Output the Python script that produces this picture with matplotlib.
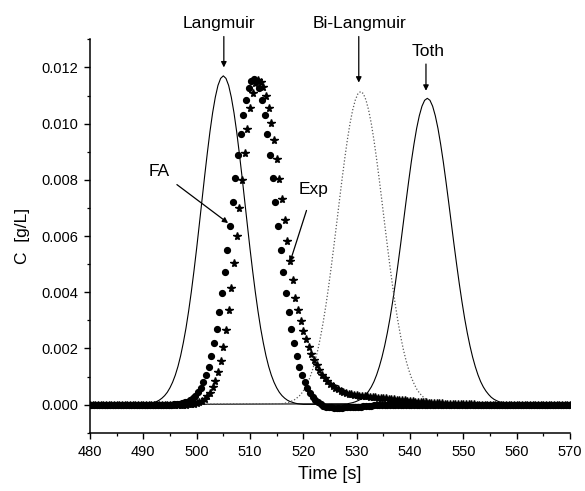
# LIBS

import matplotlib
matplotlib.use('Agg')
import matplotlib.pyplot as plt
import numpy as np

#=================
# DATA
#=================
# calculated peaks (lines), sampled every 0.5 s around the peak, zero at both ends
lang_time = [480.0] + list(np.arange(490.0, 520.5, 0.5)) + [570.0]
lang_c = [0.0,
          0.00001, 0.00002, 0.00003, 0.00005, 0.00008, 0.00011, 0.00016, 0.00023, 0.00032, 0.00044,
          0.00060, 0.00080, 0.00105, 0.00136, 0.00174, 0.00220, 0.00272, 0.00333, 0.00401, 0.00476,
          0.00556, 0.00641, 0.00727, 0.00813, 0.00895, 0.00972, 0.01039, 0.01094, 0.01136, 0.01161,
          0.01170,
          0.01161, 0.01136, 0.01094, 0.01039, 0.00972, 0.00895, 0.00813, 0.00727, 0.00641, 0.00556,
          0.00476, 0.00401, 0.00333, 0.00272, 0.00220, 0.00174, 0.00136, 0.00105, 0.00080, 0.00060,
          0.00044, 0.00032, 0.00023, 0.00016, 0.00011, 0.00008, 0.00005, 0.00003, 0.00002, 0.00001,
          0.0]

bilang_time = [480.0] + list(np.arange(515.75, 546.0, 0.5)) + [570.0]
bilang_c = [0.0,
            0.00003, 0.00004, 0.00006, 0.00008, 0.00012, 0.00016, 0.00023, 0.00031, 0.00042, 0.00056,
            0.00075, 0.00097, 0.00125, 0.00158, 0.00197, 0.00243, 0.00296, 0.00355, 0.00421, 0.00492,
            0.00567, 0.00644, 0.00723, 0.00800, 0.00873, 0.00941, 0.01000, 0.01048, 0.01084, 0.01107,
            0.01114,
            0.01107, 0.01084, 0.01048, 0.01000, 0.00941, 0.00873, 0.00800, 0.00723, 0.00644, 0.00567,
            0.00492, 0.00421, 0.00355, 0.00296, 0.00243, 0.00197, 0.00158, 0.00125, 0.00097, 0.00075,
            0.00056, 0.00042, 0.00031, 0.00023, 0.00016, 0.00012, 0.00008, 0.00006, 0.00004, 0.00003,
            0.0]

toth_time = [480.0] + list(np.arange(528.25, 558.5, 0.5)) + [570.0]
toth_c = [0.0,
          0.00003, 0.00005, 0.00007, 0.00010, 0.00014, 0.00019, 0.00026, 0.00036, 0.00048, 0.00063,
          0.00082, 0.00106, 0.00135, 0.00169, 0.00209, 0.00255, 0.00307, 0.00366, 0.00430, 0.00499,
          0.00571, 0.00646, 0.00721, 0.00794, 0.00864, 0.00927, 0.00983, 0.01028, 0.01062, 0.01083,
          0.01090,
          0.01083, 0.01062, 0.01028, 0.00983, 0.00927, 0.00864, 0.00794, 0.00721, 0.00646, 0.00571,
          0.00499, 0.00430, 0.00366, 0.00307, 0.00255, 0.00209, 0.00169, 0.00135, 0.00106, 0.00082,
          0.00063, 0.00048, 0.00036, 0.00026, 0.00019, 0.00014, 0.00010, 0.00007, 0.00005, 0.00003,
          0.0]

# FA points (every 0.5 s from 480.25)
fa_time = np.arange(480.25, 570.0, 0.5)
fa_c = [0.0, 0.0, 0.0, 0.0, 0.0, 0.0, 0.0, 0.0, 0.0, 0.0,  # 480.25
        0.0, 0.0, 0.0, 0.0, 0.0, 0.0, 0.0, 0.0, 0.0, 0.0,  # 485.25
        0.0, 0.0, 0.0, 0.0, 0.0, 0.0, 0.0, 0.0, 0.0, 0.0,  # 490.25
        0.0, 0.00001, 0.00002, 0.00003, 0.00005, 0.00008, 0.00011, 0.00016, 0.00023, 0.00032,  # 495.25
        0.00044, 0.00059, 0.00079, 0.00104, 0.00135, 0.00173, 0.00218, 0.00270, 0.00330, 0.00398,  # 500.25
        0.00472, 0.00551, 0.00635, 0.00721, 0.00806, 0.00888, 0.00963, 0.01030, 0.01085, 0.01126,  # 505.25
        0.01151, 0.01160, 0.01151, 0.01126, 0.01085, 0.01030, 0.00963, 0.00888, 0.00806, 0.00721,  # 510.25
        0.00635, 0.00551, 0.00472, 0.00398, 0.00330, 0.00270, 0.00218, 0.00173, 0.00135, 0.00104,  # 515.25
        0.00079, 0.00059, 0.00042, 0.00028, 0.00017, 0.00008, 0.00001, -0.00004, -0.00007, -0.00009,  # 520.25
        -0.00010, -0.00011, -0.00011, -0.00011, -0.00011, -0.00010, -0.00010, -0.00009, -0.00009, -0.00008,  # 525.25
        -0.00007, -0.00007, -0.00006, -0.00005, -0.00005, -0.00004, -0.00003, -0.00003, -0.00002, -0.00002,  # 530.25
        -0.00001, -0.00001, 0.0, 0.0, 0.0, 0.0, 0.0, 0.0, 0.0, 0.0,  # 535.25
        0.0, 0.0, 0.0, 0.0, 0.0, 0.0, 0.0, 0.0, 0.0, 0.0,  # 540.25
        0.0, 0.0, 0.0, 0.0, 0.0, 0.0, 0.0, 0.0, 0.0, 0.0,  # 545.25
        0.0, 0.0, 0.0, 0.0, 0.0, 0.0, 0.0, 0.0, 0.0, 0.0,  # 550.25
        0.0, 0.0, 0.0, 0.0, 0.0, 0.0, 0.0, 0.0, 0.0, 0.0,  # 555.25
        0.0, 0.0, 0.0, 0.0, 0.0, 0.0, 0.0, 0.0, 0.0, 0.0,  # 560.25
        0.0, 0.0, 0.0, 0.0, 0.0, 0.0, 0.0, 0.0, 0.0, 0.0]  # 565.25

# experimental points (every 0.5 s from 480.0)
exp_time = np.arange(480.0, 570.5, 0.5)
exp_c = [0.0, 0.0, 0.0, 0.0, 0.0, 0.0, 0.0, 0.0, 0.0, 0.0,  # 480.0
         0.0, 0.0, 0.0, 0.0, 0.0, 0.0, 0.0, 0.0, 0.0, 0.0,  # 485.0
         0.0, 0.0, 0.0, 0.0, 0.0, 0.0, 0.0, 0.0, 0.0, 0.0,  # 490.0
         0.0, 0.0, 0.0, 0.0, 0.0, 0.0, 0.0, 0.00001, 0.00002, 0.00003,  # 495.0
         0.00005, 0.00008, 0.00013, 0.00020, 0.00029, 0.00042, 0.00061, 0.00085, 0.00116, 0.00156,  # 500.0
         0.00206, 0.00266, 0.00336, 0.00416, 0.00505, 0.00601, 0.00701, 0.00800, 0.00895, 0.00981,  # 505.0
         0.01054, 0.01109, 0.01143, 0.01155, 0.01149, 0.01129, 0.01098, 0.01055, 0.01003, 0.00942,  # 510.0
         0.00875, 0.00804, 0.00730, 0.00656, 0.00582, 0.00511, 0.00444, 0.00381, 0.00335, 0.00296,  # 515.0
         0.00262, 0.00232, 0.00205, 0.00181, 0.00160, 0.00140, 0.00122, 0.00107, 0.00095, 0.00084,  # 520.0
         0.00074, 0.00066, 0.00059, 0.00054, 0.00049, 0.00045, 0.00042, 0.00039, 0.00037, 0.00035,  # 525.0
         0.00033, 0.00032, 0.00031, 0.00030, 0.00029, 0.00028, 0.00027, 0.00026, 0.00025, 0.00024,  # 530.0
         0.00023, 0.00022, 0.00021, 0.00020, 0.00019, 0.00018, 0.00017, 0.00016, 0.00015, 0.00014,  # 535.0
         0.00013, 0.00012, 0.00011, 0.00010, 0.00009, 0.00008, 0.00008, 0.00007, 0.00006, 0.00006,  # 540.0
         0.00005, 0.00004, 0.00004, 0.00003, 0.00003, 0.00003, 0.00002, 0.00002, 0.00002, 0.00002,  # 545.0
         0.00001, 0.00001, 0.00001, 0.00001, 0.00001, 0.0, 0.0, 0.0, 0.0, 0.0,  # 550.0
         0.0, 0.0, 0.0, 0.0, 0.0, 0.0, 0.0, 0.0, 0.0, 0.0,  # 555.0
         0.0, 0.0, 0.0, 0.0, 0.0, 0.0, 0.0, 0.0, 0.0, 0.0,  # 560.0
         0.0, 0.0, 0.0, 0.0, 0.0, 0.0, 0.0, 0.0, 0.0, 0.0,  # 565.0
         0.0]  # 570.0

#=================
# PLOT
#=================
plt.rcParams['font.family'] = ['Liberation Sans', 'DejaVu Sans']

fig = plt.figure(figsize=(5.85, 4.91), dpi=100)
ax = fig.add_axes([0.1538, 0.1187, 0.8205, 0.8012])

ax.plot(lang_time, lang_c, color='k', lw=0.8, zorder=2)
ax.plot(toth_time, toth_c, color='k', lw=0.8, zorder=2)
ax.plot(bilang_time, bilang_c, color='0.35', lw=0.9, linestyle=(0, (1, 1.6)), zorder=2)

ax.plot(fa_time, fa_c, linestyle='none', marker='o', ms=4.2, color='k', zorder=3)
ax.plot(exp_time, exp_c, linestyle='none', marker='*', ms=5.8, color='k', zorder=3)

ax.set_xlim(480, 570)
ax.set_ylim(-0.001, 0.013)
ax.set_xticks(np.arange(480, 571, 10))
ax.set_xticks(np.arange(485, 570, 10), minor=True)
ax.set_yticks(np.arange(0.0, 0.0121, 0.002))
ax.set_yticks([-0.001, 0.001, 0.003, 0.005, 0.007, 0.009, 0.011, 0.013], minor=True)
ax.yaxis.set_major_formatter(matplotlib.ticker.FormatStrFormatter('%.3f'))

ax.spines['top'].set_visible(False)
ax.spines['right'].set_visible(False)
ax.spines['left'].set_linewidth(1.1)
ax.spines['bottom'].set_linewidth(1.1)
ax.tick_params(which='major', direction='out', length=4.5, width=1.0, labelsize=10.5, pad=4)
ax.tick_params(which='minor', direction='out', length=2.5, width=0.9)

ax.set_xlabel('Time [s]', fontsize=13)
ax.set_ylabel('C  [g/L]', fontsize=12.5)
ax.xaxis.set_label_coords(0.5, -0.085)
ax.yaxis.set_label_coords(-0.125, 0.5)

# labels with arrows
arr = dict(arrowstyle='-|>', color='k', lw=0.9, mutation_scale=8, shrinkA=0, shrinkB=0)
ax.annotate('', xy=(505.1, 0.0120), xytext=(505.1, 0.0131), arrowprops=arr, annotation_clip=False)
ax.text(504.2, 0.0134, 'Langmuir', ha='center', va='baseline', fontsize=12.5)
ax.annotate('', xy=(530.4, 0.01146), xytext=(530.4, 0.0131), arrowprops=arr, annotation_clip=False)
ax.text(530.6, 0.0134, 'Bi-Langmuir', ha='center', va='baseline', fontsize=12.5)
ax.annotate('', xy=(543.0, 0.01117), xytext=(543.0, 0.01212), arrowprops=arr, annotation_clip=False)
ax.text(543.4, 0.01242, 'Toth', ha='center', va='baseline', fontsize=12.5)
ax.annotate('', xy=(505.9, 0.00646), xytext=(496.3, 0.00783), arrowprops=arr)
ax.text(493.0, 0.00815, 'FA', ha='center', va='baseline', fontsize=12.5)
ax.annotate('', xy=(517.5, 0.00507), xytext=(520.6, 0.00691), arrowprops=arr)
ax.text(522.0, 0.0075, 'Exp', ha='center', va='baseline', fontsize=12.5)

fig.savefig('out.png', dpi=100)
